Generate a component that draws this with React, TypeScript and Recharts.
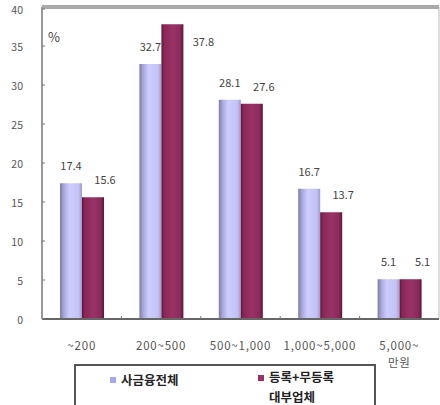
import { Bar, BarChart, LabelList, ReferenceArea, ReferenceLine, XAxis, YAxis } from "recharts";

const categories = ["~200", "200~500", "500~1,000", "1,000~5,000", "5,000~\n만원"];
const allPrivate = [17.4, 32.7, 28.1, 16.7, 5.1];
const lenders = [15.6, 37.8, 27.6, 13.7, 5.1];
const seriesNames = ["사금융전체", "등록+무등록\n대부업체"];
const yTicks = [0, 5, 10, 15, 20, 25, 30, 35, 40];

const data = categories.map((name, i) => ({ name, a: allPrivate[i], b: lenders[i] }));

const FONT = "'Noto Sans CJK KR', 'DejaVu Sans', sans-serif";
const PLOT_LEFT = 42;
const PLOT_RIGHT = 439;
const BAND = (PLOT_RIGHT - PLOT_LEFT) / categories.length;

const YTick = (props: any) => {
    const { x, y, payload } = props;
    return (
        <g>
            <line x1={x} x2={x + 3} y1={y} y2={y} stroke="#777" />
            <text x={x - 19} y={y} textAnchor="end" dominantBaseline="central" fontSize={10.5} fill="#555" fontFamily={FONT}>
                {payload.value}
            </text>
        </g>
    );
};

const XTick = (props: any) => {
    const { x, y, payload, index } = props;
    const lines = String(payload.value).split("\n");
    return (
        <g>
            {index < categories.length - 1 && (
                <line x1={x + BAND / 2} x2={x + BAND / 2} y1={y - 3} y2={y} stroke="#777" />
            )}
            {lines.map((l, i) => (
                <text key={i} x={x} y={y + 26 + i * 17} textAnchor="middle" dominantBaseline="central" fontSize={11.5} letterSpacing={0.8} fill="#555" fontFamily={FONT}>
                    {l}
                </text>
            ))}
        </g>
    );
};

const BlueLabel = (props: any) => {
    const { x, y, width, value } = props;
    return (
        <text x={x + width / 2} y={y - 18} textAnchor="middle" dominantBaseline="central" fontSize={11} fill="#444" fontFamily={FONT}>
            {Number(value).toFixed(1)}
        </text>
    );
};

const RedLabel = (props: any) => {
    const { x, y, width, value } = props;
    let cx = x + width / 2 + 12;
    let cy = y - 18;
    if (cy < 30) {
        // no room above the frame: put it beside the bar
        cy = y + 17;
        cx += 19;
    }
    return (
        <text x={cx} y={cy} textAnchor="middle" dominantBaseline="central" fontSize={11} fill="#444" fontFamily={FONT}>
            {Number(value).toFixed(1)}
        </text>
    );
};

export default function App() {
    return (
        <div style={{ position: "absolute", left: 0, top: 0, width: 440, height: 405, background: "#fff", overflow: "hidden" }}>
            <BarChart data={data} width={440} height={405} margin={{ top: 7, right: 1, left: 0, bottom: 0 }} barGap={0} barSize={22}>
                <defs>
                    <linearGradient id="gBlue" x1="0" y1="0" x2="1" y2="0">
                        <stop offset="0%" stopColor="#7c7ca4" />
                        <stop offset="18%" stopColor="#a9a9dc" />
                        <stop offset="42%" stopColor="#ccccff" />
                        <stop offset="85%" stopColor="#c2c2f2" />
                        <stop offset="100%" stopColor="#9a9acb" />
                    </linearGradient>
                    <linearGradient id="gRed" x1="0" y1="0" x2="1" y2="0">
                        <stop offset="0%" stopColor="#5c1838" />
                        <stop offset="12%" stopColor="#8a2656" />
                        <stop offset="50%" stopColor="#993366" />
                        <stop offset="85%" stopColor="#8c2a5c" />
                        <stop offset="100%" stopColor="#5a1636" />
                    </linearGradient>
                </defs>
                <ReferenceArea y1={0} y2={40} fill="none" stroke="#bbb" strokeWidth={1} ifOverflow="visible" />
                <ReferenceLine y={40} stroke="#aaa" strokeWidth={4} ifOverflow="visible" />
                <XAxis dataKey="name" height={86} tickSize={0} tickMargin={0} tick={<XTick />} stroke="#666" strokeWidth={2} interval={0} />
                <YAxis domain={[0, 40]} ticks={yTicks} width={42} tickSize={0} tickMargin={0} tick={<YTick />} stroke="#999" strokeWidth={2} />
                <Bar dataKey="a" name={seriesNames[0]} fill="url(#gBlue)" isAnimationActive={false}>
                    <LabelList dataKey="a" content={<BlueLabel />} />
                </Bar>
                <Bar dataKey="b" name={seriesNames[1]} fill="url(#gRed)" isAnimationActive={false}>
                    <LabelList dataKey="b" content={<RedLabel />} />
                </Bar>
                <text x={48} y={36} fontSize={13} fill="#444" fontFamily={FONT} dominantBaseline="central">%</text>
            </BarChart>
            <div style={{ position: "absolute", left: 74, top: 364, width: 302, height: 50, border: "2px solid #555", boxSizing: "border-box", fontFamily: FONT, fontSize: 12.5, fontWeight: 700, color: "#222" }}>
                <div style={{ position: "absolute", left: 34, top: 4, display: "flex", alignItems: "center" }}>
                    <span style={{ width: 6, height: 6, background: "#a8a8f0", marginRight: 5 }} />
                    <span>{seriesNames[0]}</span>
                </div>
                <div style={{ position: "absolute", left: 182, top: 4, display: "flex", alignItems: "flex-start" }}>
                    <span style={{ width: 6, height: 6, background: "#993366", marginRight: 5, marginTop: 5 }} />
                    <span style={{ whiteSpace: "pre", lineHeight: "20px", marginTop: -3 }}>{seriesNames[1]}</span>
                </div>
            </div>
        </div>
    );
}
